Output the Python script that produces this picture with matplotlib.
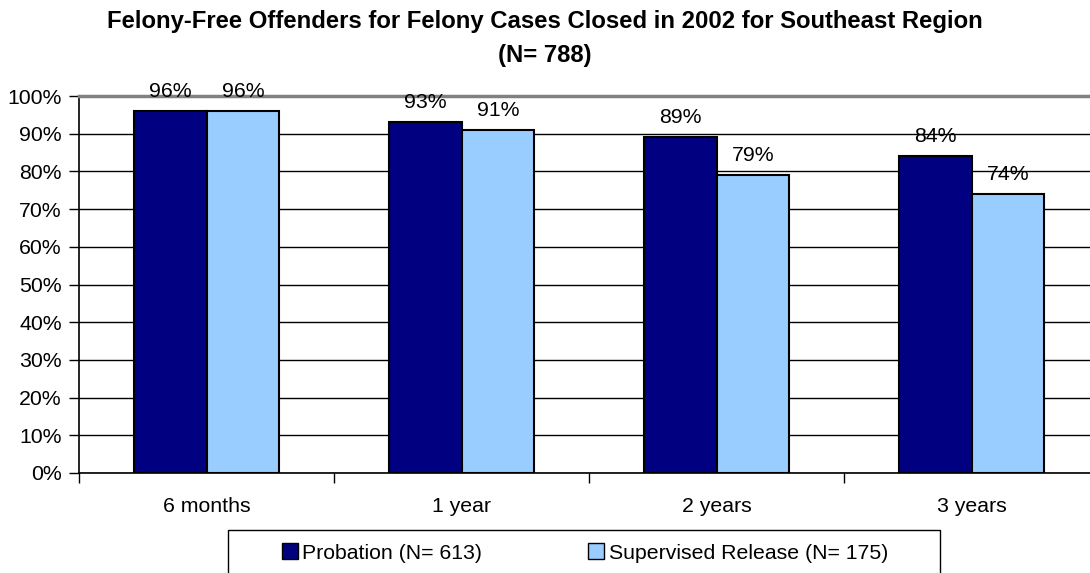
import matplotlib.pyplot as plt
from matplotlib.patches import Patch, Rectangle
import numpy as np

plt.rcParams['font.family'] = ['Liberation Sans', 'DejaVu Sans']

periods = ['6 months', '1 year', '2 years', '3 years']
probation = [96, 93, 89, 84]
supervised = [96, 91, 79, 74]
series_names = ['Probation (N= 613)', 'Supervised Release (N= 175)']
title = 'Felony-Free Offenders for Felony Cases Closed in 2002 for Southeast Region\n(N= 788)'

W, H = 1090, 573
fs = 15.3
fig = plt.figure(figsize=(W / 100, H / 100), dpi=100)
# plot area runs slightly past the right edge, as in the source image
ax = fig.add_axes([79 / W, (H - 473) / H, 1020 / W, 377 / H])

x = np.arange(len(periods))
bw = 0.286
b1 = ax.bar(x - bw / 2, probation, bw, color='#000080', edgecolor='black', linewidth=1.5, zorder=3)
b2 = ax.bar(x + bw / 2, supervised, bw, color='#99CCFF', edgecolor='black', linewidth=1.5, zorder=3)
for bars in (b1, b2):
    ax.bar_label(bars, labels=[f'{v}%' for v in bars.datavalues], padding=7.5, fontsize=fs)

ax.set_xlim(-0.5, len(periods) - 0.5)
ax.set_ylim(0, 100)
ax.set_yticks(range(0, 101, 10))
ax.set_yticklabels([f'{v}%' for v in range(0, 101, 10)], fontsize=fs)
ax.yaxis.grid(True, color='black', linewidth=1)
ax.set_axisbelow(True)

ax.set_xticks(x)
ax.set_xticklabels(periods, fontsize=fs)
ax.tick_params(axis='x', length=0, pad=17)
ax.set_xticks(np.arange(-0.5, len(periods)), minor=True)
ax.tick_params(axis='x', which='minor', length=7, width=1, direction='out')
ax.tick_params(axis='y', length=7, width=1, pad=5.5)

ax.spines['right'].set_visible(False)
ax.spines['top'].set_color('#808080')
ax.spines['top'].set_linewidth(2.5)
ax.spines['left'].set_linewidth(1.2)
ax.spines['bottom'].set_linewidth(1.2)

fig.text(0.5, 1 - 38.5 / H, title, ha='center', va='center', fontsize=17.2, fontweight='bold',
         linespacing=1.6)

# legend box (extends below the image)
fig.patches.append(Rectangle((228 / W, -0.05), 712 / W, (H - 530) / H + 0.05,
                             transform=fig.transFigure, facecolor='white',
                             edgecolor='black', linewidth=1))
handles = [Patch(facecolor='#000080', edgecolor='black'),
           Patch(facecolor='#99CCFF', edgecolor='black')]
fig.legend(handles, series_names, loc='center', bbox_to_anchor=(585 / W, (H - 553) / H),
           ncol=2, frameon=False, fontsize=fs, handlelength=0.75, handleheight=0.75,
           handletextpad=0.2, columnspacing=5.0)

plt.savefig('out.png', dpi=100)
